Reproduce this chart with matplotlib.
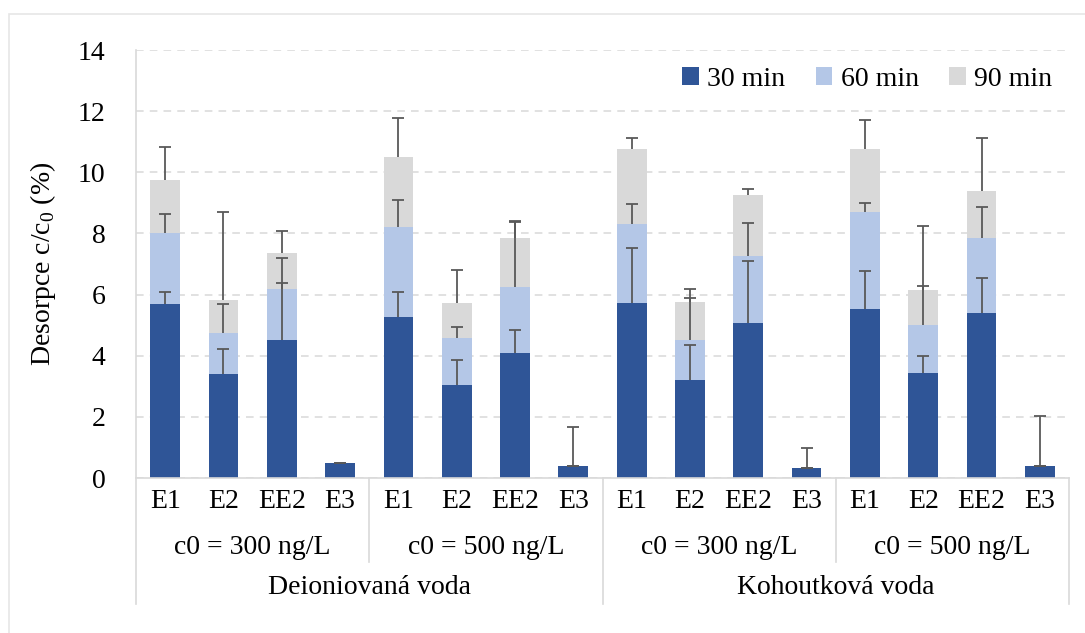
import matplotlib.pyplot as plt
from matplotlib.patches import Patch, Rectangle
from matplotlib.lines import Line2D
import numpy as np

plt.rcParams['font.family'] = ['Liberation Serif', 'DejaVu Serif']
plt.rcParams['mathtext.fontset'] = 'custom'
plt.rcParams['mathtext.rm'] = 'Liberation Serif'

# ---- data (cumulative desorption, %) --------------------------------
compounds = ['E1', 'E2', 'EE2', 'E3']
conc_labels = ['c0 = 300 ng/L', 'c0 = 500 ng/L', 'c0 = 300 ng/L', 'c0 = 500 ng/L']
water_labels = ['Deioniovaná voda', 'Kohoutková voda']
series_names = ['30 min', '60 min', '90 min']

val_30 = [5.68, 3.39, 4.51, 0.48, 5.26, 3.05, 4.08, 0.39,
          5.71, 3.21, 5.08, 0.34, 5.52, 3.45, 5.39, 0.39]
val_60 = [8.03, 4.73, 6.18, 0.48, 8.20, 4.58, 6.26, 0.39,
          8.31, 4.50, 7.26, 0.34, 8.71, 5.02, 7.84, 0.39]
val_90 = [9.75, 5.81, 7.35, 0.48, 10.51, 5.71, 7.84, 0.39,
          10.75, 5.75, 9.26, 0.34, 10.76, 6.15, 9.40, 0.39]

err_30 = [0.42, 0.82, 1.88, 0.02, 0.82, 0.81, 0.76, 1.27,
          1.82, 1.13, 2.03, 0.65, 1.24, 0.54, 1.16, 1.65]
err_60 = [0.61, 0.95, 1.03, 0.0, 0.89, 0.35, 2.13, 0.0,
          0.64, 1.38, 1.07, 0.0, 0.30, 1.27, 1.02, 0.0]
err_90 = [1.07, 2.90, 0.74, 0.0, 1.26, 1.09, 0.58, 0.0,
          0.38, 0.43, 0.20, 0.0, 0.95, 2.08, 1.71, 0.0]

colors = ['#2F5597', '#B4C7E7', '#D9D9D9']
err_color = '#595959'
line_color = '#D9D9D9'

# ---- figure ---------------------------------------------------------
fig = plt.figure(figsize=(10.85, 6.33), dpi=100)
ax = fig.add_axes([136 / 1085, 1 - 478 / 633, 933 / 1085, 428 / 633])

n = len(val_30)
x = np.arange(n)
width = 0.51

# back to front: 90, 60, 30
for vals, col in zip([val_90, val_60, val_30], colors[::-1]):
    ax.bar(x, vals, width=width, color=col, zorder=2)

# upper error bars only (hide the cap at the bar top)
for vals, errs in zip([val_90, val_60, val_30], [err_90, err_60, err_30]):
    errs = np.array(errs)
    _, caps, _ = ax.errorbar(x, vals, yerr=[np.zeros_like(errs), errs],
                             fmt='none', ecolor=err_color, elinewidth=1.3,
                             capsize=4, capthick=1.3, zorder=3)
    caps[0].set_visible(False)

ax.set_xlim(-0.5, n - 0.5)
ax.set_ylim(0, 14)
ax.set_yticks(np.arange(0, 15, 2))
ax.yaxis.grid(True, linestyle=(0, (5, 4)), color=line_color, linewidth=1.1, zorder=0)
ax.set_axisbelow(True)
ax.tick_params(axis='y', length=0, pad=22, labelsize=20)
ax.set_xticks([])

for s in ['top', 'right', 'bottom', 'left']:
    ax.spines[s].set_visible(False)

ax.set_ylabel(r'Desorpce c/c$_\mathregular{0}$ (%)', fontsize=20, labelpad=14)

# ---- multi-level category axis ------------------------------------
tr = ax.get_xaxis_transform()
ax_h = 428.0


def ay(px):
    # pixel offset below the x axis -> axes fraction
    return -px / ax_h


ax.add_line(Line2D([-0.5, n - 0.5], [0, 0], transform=tr, color=line_color,
                   lw=1.2, clip_on=False))
for i in range(n):
    ax.text(i, ay(24), compounds[i % 4], transform=tr, ha='center',
            va='center', fontsize=20)
for g in range(4):
    ax.text(g * 4 + 1.5, ay(70), conc_labels[g], transform=tr, ha='center',
            va='center', fontsize=20)
for w in range(2):
    ax.text(w * 8 + 3.5, ay(110), water_labels[w], transform=tr, ha='center',
            va='center', fontsize=20)

# divider lines
for xd in [3.5, 11.5]:
    ax.add_line(Line2D([xd, xd], [0, ay(84)], transform=tr, color=line_color,
                       lw=1.2, clip_on=False))
for xd in [7.5, n - 0.5]:
    ax.add_line(Line2D([xd, xd], [0, ay(126)], transform=tr, color=line_color,
                       lw=1.2, clip_on=False))
# left axis line runs from the top of the plot down to the last label row
ax.add_line(Line2D([-0.5, -0.5], [1, ay(126)], transform=tr, color=line_color,
                   lw=1.2, clip_on=False))

# ---- legend ----------------------------------------------------------
handles = [Patch(facecolor=c, edgecolor='none') for c in colors]
ax.legend(handles, series_names, loc='upper right', ncol=3, frameon=False,
          fontsize=20, handlelength=0.6, handleheight=0.6, handletextpad=0.3,
          columnspacing=1.1, bbox_to_anchor=(1.0, 1.0), borderaxespad=0.2)

# chart area border
fig.add_artist(Rectangle((9 / 1085, -0.1), 1.2, 1 - 14 / 633 + 0.1,
                         transform=fig.transFigure, fill=False,
                         edgecolor='#E6E6E6', lw=1.2))

fig.savefig('out.png', dpi=100)
